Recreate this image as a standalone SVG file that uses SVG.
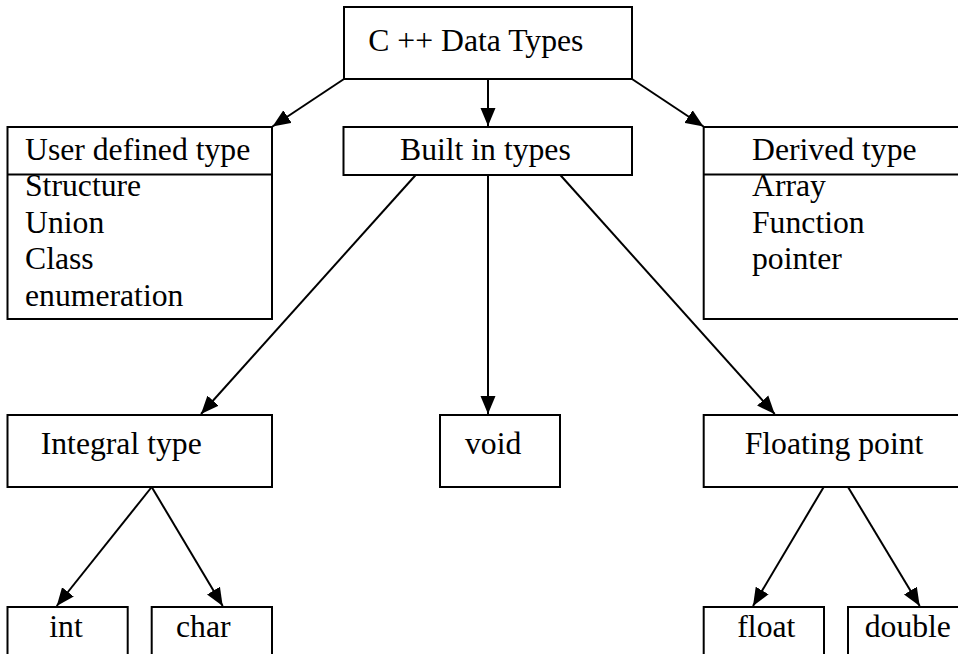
<svg xmlns="http://www.w3.org/2000/svg" width="958" height="654" viewBox="0 0 958 654">
<style>
.box{fill:#fff;stroke:#000;stroke-width:2}
.t{font-family:"Liberation Serif","Times New Roman",serif;font-size:31.7px;fill:#000}
.c{stroke:#000;stroke-width:2;fill:none;marker-end:url(#ah)}
</style>
<defs>
<marker id="ah" markerUnits="userSpaceOnUse" markerWidth="19" markerHeight="16" refX="18" refY="8" orient="auto">
<path d="M0,0.5 L18,8 L0,15.5 Z" fill="#000"/>
</marker>
</defs>
<rect width="958" height="654" fill="#fff"/>
<g id="connectors">
<line class="c" x1="344" y1="79" x2="272.5" y2="126.5"/>
<line class="c" x1="488" y1="79" x2="488" y2="126"/>
<line class="c" x1="632" y1="79" x2="703.5" y2="126.5"/>
<line class="c" x1="415.7" y1="175" x2="201" y2="414"/>
<line class="c" x1="488" y1="175" x2="488" y2="414"/>
<line class="c" x1="560.3" y1="175" x2="774.7" y2="414"/>
<line class="c" x1="151.7" y1="487" x2="56.7" y2="606"/>
<line class="c" x1="151.7" y1="487" x2="222.7" y2="606"/>
<line class="c" x1="823.7" y1="487" x2="753" y2="606"/>
<line class="c" x1="848" y1="487" x2="919.7" y2="606"/>
</g>
<g id="root">
<rect class="box" x="344" y="7" width="288" height="72"/>
<text class="t" x="368.3" y="50.7">C ++ Data Types</text>
</g>
<g id="user">
<rect class="box" x="7.5" y="127" width="264.5" height="192"/>
<line x1="7.5" y1="174.5" x2="272" y2="174.5" stroke="#000" stroke-width="2"/>
<text class="t" x="25" y="160">User defined type</text>
<text class="t" x="25" y="196">Structure</text>
<text class="t" x="25" y="233">Union</text>
<text class="t" x="25" y="269">Class</text>
<text class="t" x="25" y="306">enumeration</text>
</g>
<g id="builtin">
<rect class="box" x="343.5" y="127" width="288.5" height="48"/>
<text class="t" x="400" y="160">Built in types</text>
</g>
<g id="derived">
<rect class="box" x="703.7" y="127" width="270" height="192"/>
<line x1="703.7" y1="174.5" x2="970" y2="174.5" stroke="#000" stroke-width="2"/>
<text class="t" x="752" y="160">Derived type</text>
<text class="t" x="752" y="196">Array</text>
<text class="t" x="752" y="233">Function</text>
<text class="t" x="752" y="269">pointer</text>
</g>
<g id="integral">
<rect class="box" x="7.5" y="415" width="264.5" height="72"/>
<text class="t" x="40.7" y="454">Integral type</text>
</g>
<g id="void">
<rect class="box" x="440" y="415" width="120" height="72"/>
<text class="t" x="465" y="454">void</text>
</g>
<g id="floating">
<rect class="box" x="703.7" y="415" width="270" height="72"/>
<text class="t" x="744.7" y="454">Floating point</text>
</g>
<g id="int">
<rect class="box" x="7.5" y="607" width="120.2" height="60"/>
<text class="t" x="49.3" y="637">int</text>
</g>
<g id="char">
<rect class="box" x="151.7" y="607" width="120.3" height="60"/>
<text class="t" x="176" y="637">char</text>
</g>
<g id="float">
<rect class="box" x="703.7" y="607" width="120.3" height="60"/>
<text class="t" x="737.3" y="637">float</text>
</g>
<g id="double">
<rect class="box" x="848" y="607" width="130" height="60"/>
<text class="t" x="864.7" y="637">double</text>
</g>
</svg>
